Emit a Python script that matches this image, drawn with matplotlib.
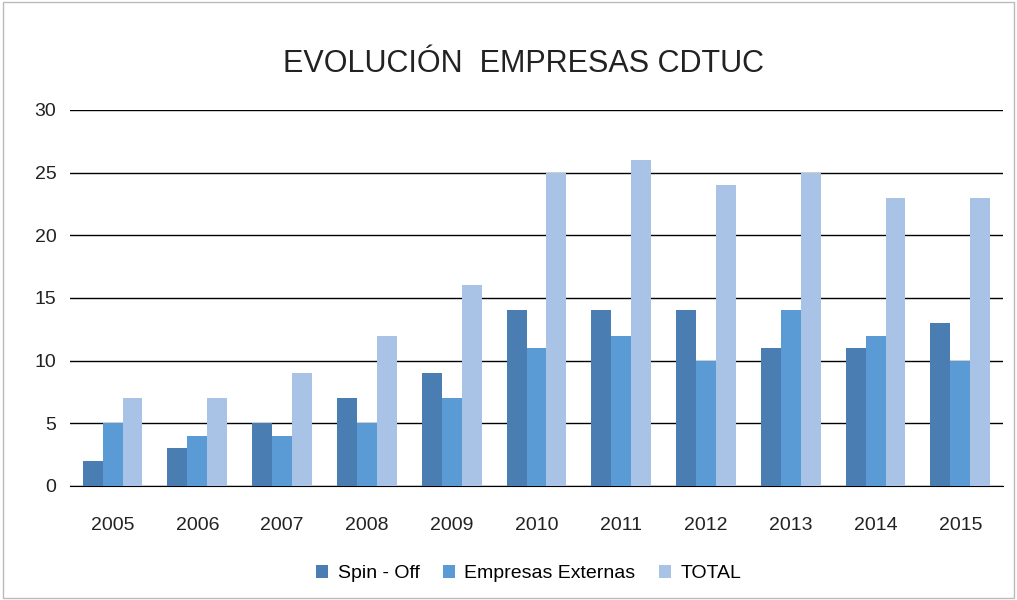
import matplotlib
matplotlib.use("Agg")
import matplotlib.pyplot as plt
import numpy as np

plt.rcParams['font.family'] = ['Liberation Sans', 'DejaVu Sans']

years = ['2005', '2006', '2007', '2008', '2009', '2010', '2011', '2012', '2013', '2014', '2015']
spin_off = [2, 3, 5, 7, 9, 14, 14, 14, 11, 11, 13]
externas = [5, 4, 4, 5, 7, 11, 12, 10, 14, 12, 10]
total = [7, 7, 9, 12, 16, 25, 26, 24, 25, 23, 23]

fig = plt.figure(figsize=(10.17, 6.0), dpi=100)
ax = fig.add_axes([0.069, 0.19, 0.917, 0.627])

x = np.arange(len(years))
w = 0.235
ax.bar(x - w, spin_off, w, color='#4a7eb2', label='Spin - Off', zorder=3)
ax.bar(x, externas, w, color='#5b9bd5', label='Empresas Externas', zorder=3)
ax.bar(x + w, total, w, color='#a9c3e6', label='TOTAL', zorder=3)

ax.set_ylim(0, 30)
ax.set_yticks(range(0, 31, 5))
ax.set_xlim(-0.5, len(years) - 0.5)
ax.set_xticks(x)
ax.set_xticklabels(years)
ax.yaxis.grid(True, color='black', linewidth=1.0, zorder=0)
for s in ['top', 'right', 'left']:
    ax.spines[s].set_visible(False)
ax.spines['bottom'].set_color('black')
ax.tick_params(axis='y', length=0, labelsize=14, colors='#222222', pad=10)
ax.tick_params(axis='x', length=0, labelsize=14, colors='#222222', pad=22)

fig.suptitle('EVOLUCIÓN  EMPRESAS CDTUC', x=0.515, y=0.918, fontsize=22, color='#222222')
fig.legend(loc='lower center', bbox_to_anchor=(0.52, 0.0), ncol=3, frameon=False,
           fontsize=14, handlelength=0.6, handleheight=0.6, columnspacing=1.2, handletextpad=0.5)

fig.patches.append(plt.Rectangle((0.003, 0.003), 0.994, 0.994, transform=fig.transFigure,
                                 fill=False, edgecolor='#bbbbbb', linewidth=1))
fig.savefig('out.png', dpi=100)
